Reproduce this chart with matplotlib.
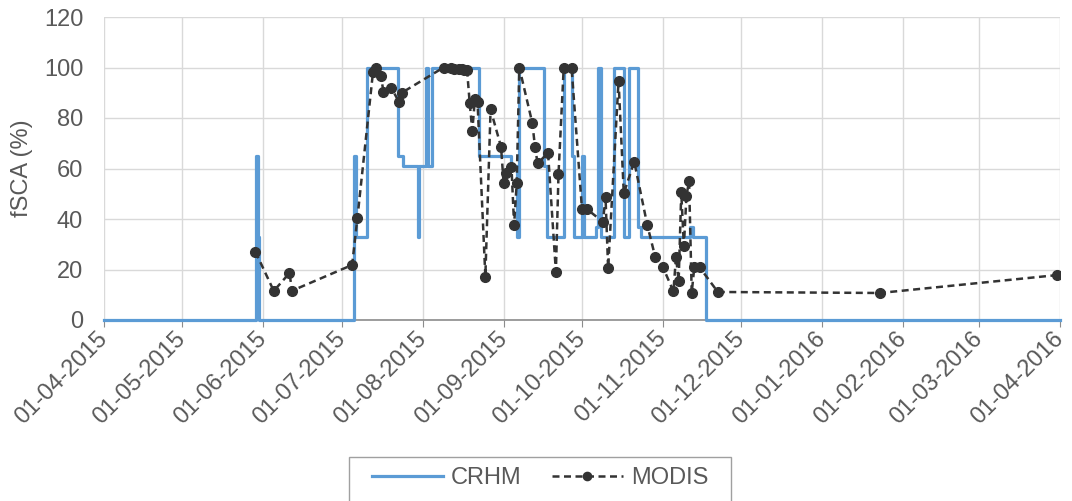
import pandas as pd
import matplotlib.pyplot as plt
import matplotlib.dates as mdates
from matplotlib.patches import Rectangle

plt.rcParams['font.family'] = ['Liberation Sans', 'DejaVu Sans']

# CRHM modelled fSCA (step changes)
crhm_dates = ['2015-04-01 00:00', '2015-05-29 07:00', '2015-05-29 19:00', '2015-05-30 07:00',
              '2015-07-05 17:00', '2015-07-06 10:00', '2015-07-10 14:00', '2015-07-22 17:00',
              '2015-07-24 14:00', '2015-07-30 02:00', '2015-07-30 12:00', '2015-08-02 10:00',
              '2015-08-03 03:00', '2015-08-04 12:00', '2015-08-22 12:00', '2015-09-03 17:00',
              '2015-09-06 00:00', '2015-09-06 19:00', '2015-09-16 07:00', '2015-09-17 19:00',
              '2015-09-24 05:00', '2015-09-27 02:00', '2015-09-28 00:00', '2015-10-01 00:00',
              '2015-10-01 17:00', '2015-10-06 07:00', '2015-10-07 07:00', '2015-10-08 10:00',
              '2015-10-13 07:00', '2015-10-17 05:00', '2015-10-19 02:00', '2015-10-22 07:00',
              '2015-10-23 14:00', '2015-11-11 07:00', '2015-11-12 12:00', '2015-11-17 12:00',
              '2016-04-01 00:00']
crhm_vals = [0, 65, 33, 0,
             65, 33, 100, 65,
             61, 33, 61, 100,
             61, 100, 65, 61,
             33, 100, 61, 33,
             100, 65, 33, 65,
             33, 37, 100, 33,
             100, 33, 100, 37,
             33, 37, 33, 0,
             0]

# MODIS observed fSCA
modis_dates = ['2015-05-29', '2015-06-05', '2015-06-11', '2015-06-12', '2015-07-05', '2015-07-07',
               '2015-07-13', '2015-07-14', '2015-07-16', '2015-07-17', '2015-07-20', '2015-07-23',
               '2015-07-24', '2015-08-09', '2015-08-12', '2015-08-13', '2015-08-15', '2015-08-16',
               '2015-08-17', '2015-08-18', '2015-08-19', '2015-08-20', '2015-08-21', '2015-08-22',
               '2015-08-25', '2015-08-27', '2015-08-31', '2015-09-01', '2015-09-02', '2015-09-04',
               '2015-09-05', '2015-09-06', '2015-09-07', '2015-09-12', '2015-09-13', '2015-09-14',
               '2015-09-18', '2015-09-21', '2015-09-22', '2015-09-24', '2015-09-27', '2015-10-01',
               '2015-10-03', '2015-10-09', '2015-10-10', '2015-10-11', '2015-10-15', '2015-10-17',
               '2015-10-21', '2015-10-26', '2015-10-29', '2015-11-01', '2015-11-05', '2015-11-06',
               '2015-11-07', '2015-11-08', '2015-11-09', '2015-11-10', '2015-11-11', '2015-11-12',
               '2015-11-13', '2015-11-15', '2015-11-22', '2016-01-23', '2016-03-31']
modis_vals = [27, 11.5, 18.6, 11.6, 21.8, 40.3,
              98.3, 100, 96.6, 90.4, 92, 86.2,
              90, 100, 99.8, 99.6, 99.5, 99.3,
              99.2, 99, 86, 75, 87.5, 86.5,
              17.2, 83.4, 68.6, 54.1, 58.1, 60.7,
              37.6, 54.1, 100, 77.9, 68.6, 62,
              66.2, 19.1, 57.7, 100, 100, 43.8,
              43.8, 38.9, 48.8, 20.5, 94.7, 50.2,
              62.7, 37.6, 25.1, 20.9, 11.3, 25.1,
              15.3, 50.5, 29.2, 49.3, 55, 10.8,
              20.9, 20.9, 11.1, 10.7, 17.8]

y_ticks = [0, 20, 40, 60, 80, 100, 120]

crhm_t = pd.to_datetime(crhm_dates)
modis_t = pd.to_datetime(modis_dates)

fig = plt.figure(figsize=(10.72, 5.01), dpi=100)
ax = fig.add_axes([104 / 1072, 1 - 320 / 501, 956 / 1072, 303 / 501])

ax.plot(crhm_t, crhm_vals, drawstyle='steps-post', color='#5b9bd5', lw=2.3,
        label='CRHM', clip_on=False, zorder=3)
ax.plot(modis_t, modis_vals, color='#333333', lw=1.8, linestyle=(0, (2.8, 1.8)),
        marker='o', markersize=7, label='MODIS', zorder=4)

ax.set_xlim(pd.Timestamp('2015-04-01'), pd.Timestamp('2016-04-01'))
ax.set_ylim(0, 120)
ax.set_yticks(y_ticks)
ax.xaxis.set_major_locator(mdates.MonthLocator())
ax.xaxis.set_major_formatter(mdates.DateFormatter('%d-%m-%Y'))

ax.grid(True, color='#d9d9d9', lw=1)
ax.set_axisbelow(True)
for s in ['top', 'right', 'left']:
    ax.spines[s].set_visible(False)
ax.spines['bottom'].set_color('#8c8c8c')
ax.spines['bottom'].set_linewidth(1.2)

ax.tick_params(axis='y', length=0, pad=15, labelsize=17, labelcolor='#595959')
ax.tick_params(axis='x', length=5, color='#8c8c8c', pad=6, labelsize=17, labelcolor='#595959')
for lab in ax.get_xticklabels():
    lab.set_rotation(45)
    lab.set_ha('right')
    lab.set_va('center')
    lab.set_rotation_mode('anchor')

ax.set_ylabel('fSCA (%)', fontsize=17, color='#595959')
ax.yaxis.set_label_coords(-0.074, 0.5)

# legend box (bottom edge runs off the figure)
fig.patches.append(Rectangle((349 / 1072, -0.05), 382 / 1072, 44 / 501 + 0.05,
                             transform=fig.transFigure, fill=False,
                             edgecolor='#a0a0a0', lw=1))
fig.legend(loc='center', bbox_to_anchor=(540 / 1072, 1 - 478 / 501), ncol=2,
           frameon=False, fontsize=17, labelcolor='#595959', handlelength=3.0,
           handletextpad=0.34, columnspacing=1.3, markerscale=0.85)

plt.savefig('out.png', dpi=100)
